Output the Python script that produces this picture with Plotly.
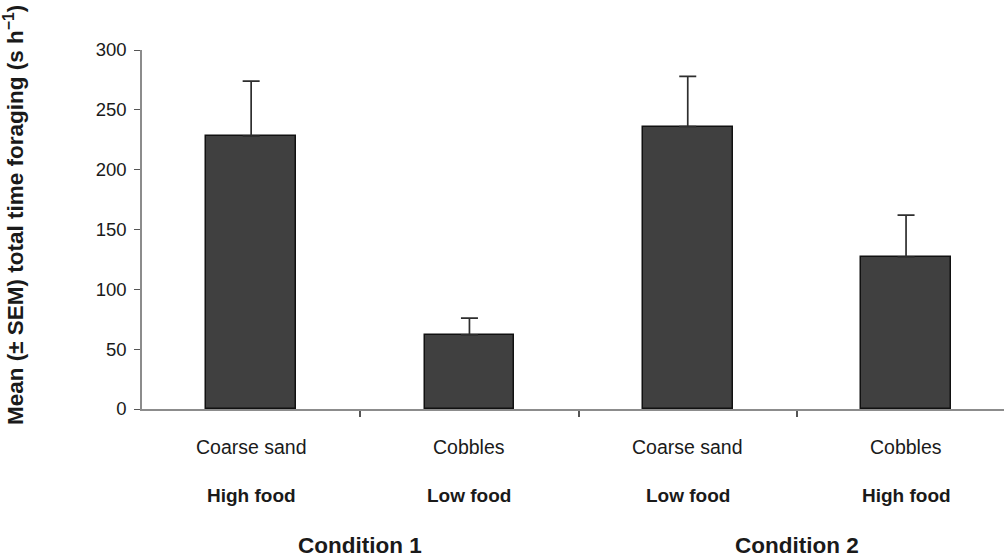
import plotly.graph_objects as go

# Mean total foraging time per treatment with upper SEM bars
substrates = ["Coarse sand", "Cobbles", "Coarse sand", "Cobbles"]
food_levels = ["High food", "Low food", "Low food", "High food"]
conditions = ["Condition 1", "Condition 2"]
mean_time = [228, 62, 236, 127]
sem_upper = [46, 14, 42, 35]
y_ticks = [0, 50, 100, 150, 200, 250, 300]

W, H = 1004, 559
L, T, B = 142, 50, 150
plot_h = H - T - B
slot_px = 218.3  # width of one category slot in pixels
x_pos = list(range(len(mean_time)))
x_max = -0.5 + (W - L) / slot_px

FONT = "Liberation Sans, Arial, sans-serif"
TXT = "#1a1a1a"
AX = "#8c8c8c"

fig = go.Figure()
fig.add_trace(go.Bar(
    x=x_pos, y=mean_time, width=0.41,
    marker=dict(color="#404040", line=dict(color="#111111", width=1.5)),
    error_y=dict(type="data", symmetric=False, array=sem_upper,
                 arrayminus=[0] * len(sem_upper),
                 color="#2e2e2e", thickness=1.7, width=8.5),
    showlegend=False,
))

def py(px):
    # pixel row -> paper y coordinate
    return (H - B - px) / plot_h

annotations = []
for i in x_pos:
    annotations.append(dict(x=i, y=py(447), xref="x", yref="paper", text=substrates[i],
                            showarrow=False, font=dict(family=FONT, size=19.5, color=TXT),
                            xanchor="center", yanchor="middle"))
    annotations.append(dict(x=i, y=py(495), xref="x", yref="paper", text="<b>%s</b>" % food_levels[i],
                            showarrow=False, font=dict(family=FONT, size=19, color=TXT),
                            xanchor="center", yanchor="middle"))
for k, c in enumerate(conditions):
    annotations.append(dict(x=2 * k + 0.5, y=py(545), xref="x", yref="paper", text="<b>%s</b>" % c,
                            showarrow=False, font=dict(family=FONT, size=22.5, color=TXT),
                            xanchor="center", yanchor="middle"))
annotations.append(dict(x=-(L - 14) / (W - L), y=py(215), xref="paper", yref="paper",
                        text="<b>Mean (± SEM) total time foraging (s h<sup>−1</sup>)</b>",
                        textangle=-90, showarrow=False,
                        font=dict(family=FONT, size=22.5, color=TXT),
                        xanchor="center", yanchor="middle"))

fig.update_layout(
    width=W, height=H,
    margin=dict(l=L, r=0, t=T, b=B),
    paper_bgcolor="white", plot_bgcolor="white",
    annotations=annotations,
    bargap=0,
)
fig.update_xaxes(range=[-0.5, x_max], tickmode="array", tickvals=[0.5, 1.5, 2.5],
                 showticklabels=False, ticks="outside", ticklen=6, tickwidth=1.5,
                 tickcolor="#555555", showline=True, linecolor=AX, linewidth=1.5,
                 showgrid=False, zeroline=False, fixedrange=True)
fig.update_yaxes(range=[0, 300], tickmode="array", tickvals=y_ticks,
                 ticks="outside", ticklen=6, tickwidth=1.2, tickcolor="#555555",
                 showline=True, linecolor=AX, linewidth=1.5, showgrid=False,
                 zeroline=False, tickfont=dict(family=FONT, size=18.5, color=TXT),
                 ticklabelstandoff=4, fixedrange=True)

fig.write_html("out.html", config={"displayModeBar": False})
